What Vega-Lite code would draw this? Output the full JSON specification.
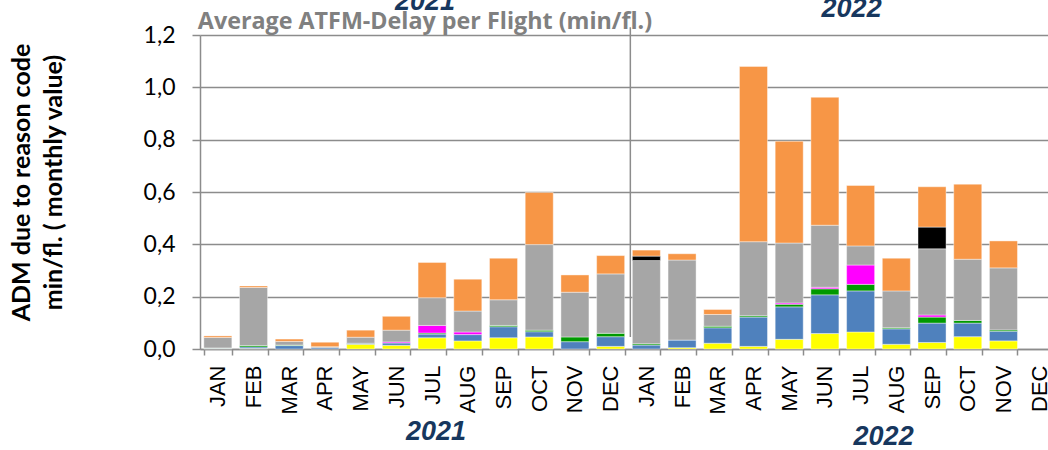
{
  "$schema": "https://vega.github.io/schema/vega-lite/v6.json",
  "autosize": {"type": "none"},
  "padding": {"left": 200, "top": 35, "right": 0, "bottom": 101},
  "width": 848,
  "height": 314,
  "background": "white",
  "config": {"view": {"stroke": null}},
  "datasets": {
    "adm": [
      {"m": "JAN 2021", "c": "R1", "v": 0.002}, {"m": "JAN 2021", "c": "R2", "v": 0.002}, {"m": "JAN 2021", "c": "R5", "v": 0.040}, {"m": "JAN 2021", "c": "R7", "v": 0.006},
      {"m": "FEB 2021", "c": "R1", "v": 0.002}, {"m": "FEB 2021", "c": "R2", "v": 0.006}, {"m": "FEB 2021", "c": "R3", "v": 0.005}, {"m": "FEB 2021", "c": "R5", "v": 0.222}, {"m": "FEB 2021", "c": "R7", "v": 0.006},
      {"m": "MAR 2021", "c": "R2", "v": 0.013}, {"m": "MAR 2021", "c": "R3", "v": 0.002}, {"m": "MAR 2021", "c": "R5", "v": 0.014}, {"m": "MAR 2021", "c": "R7", "v": 0.009},
      {"m": "APR 2021", "c": "R2", "v": 0.005}, {"m": "APR 2021", "c": "R5", "v": 0.004}, {"m": "APR 2021", "c": "R7", "v": 0.017},
      {"m": "MAY 2021", "c": "R1", "v": 0.018}, {"m": "MAY 2021", "c": "R2", "v": 0.004}, {"m": "MAY 2021", "c": "R5", "v": 0.023}, {"m": "MAY 2021", "c": "R7", "v": 0.027},
      {"m": "JUN 2021", "c": "R1", "v": 0.014}, {"m": "JUN 2021", "c": "R2", "v": 0.009}, {"m": "JUN 2021", "c": "R4", "v": 0.004}, {"m": "JUN 2021", "c": "R5", "v": 0.045}, {"m": "JUN 2021", "c": "R7", "v": 0.053},
      {"m": "JUL 2021", "c": "R1", "v": 0.043}, {"m": "JUL 2021", "c": "R2", "v": 0.014}, {"m": "JUL 2021", "c": "R3", "v": 0.004}, {"m": "JUL 2021", "c": "R4", "v": 0.029}, {"m": "JUL 2021", "c": "R5", "v": 0.106}, {"m": "JUL 2021", "c": "R7", "v": 0.135},
      {"m": "AUG 2021", "c": "R1", "v": 0.031}, {"m": "AUG 2021", "c": "R2", "v": 0.024}, {"m": "AUG 2021", "c": "R4", "v": 0.010}, {"m": "AUG 2021", "c": "R5", "v": 0.080}, {"m": "AUG 2021", "c": "R7", "v": 0.122},
      {"m": "SEP 2021", "c": "R1", "v": 0.043}, {"m": "SEP 2021", "c": "R2", "v": 0.042}, {"m": "SEP 2021", "c": "R3", "v": 0.005}, {"m": "SEP 2021", "c": "R5", "v": 0.098}, {"m": "SEP 2021", "c": "R7", "v": 0.159},
      {"m": "OCT 2021", "c": "R1", "v": 0.046}, {"m": "OCT 2021", "c": "R2", "v": 0.020}, {"m": "OCT 2021", "c": "R3", "v": 0.006}, {"m": "OCT 2021", "c": "R5", "v": 0.327}, {"m": "OCT 2021", "c": "R7", "v": 0.199},
      {"m": "NOV 2021", "c": "R2", "v": 0.028}, {"m": "NOV 2021", "c": "R3", "v": 0.018}, {"m": "NOV 2021", "c": "R5", "v": 0.171}, {"m": "NOV 2021", "c": "R7", "v": 0.066},
      {"m": "DEC 2021", "c": "R1", "v": 0.010}, {"m": "DEC 2021", "c": "R2", "v": 0.037}, {"m": "DEC 2021", "c": "R3", "v": 0.013}, {"m": "DEC 2021", "c": "R5", "v": 0.227}, {"m": "DEC 2021", "c": "R7", "v": 0.070},
      {"m": "JAN 2022", "c": "R2", "v": 0.015}, {"m": "JAN 2022", "c": "R3", "v": 0.005}, {"m": "JAN 2022", "c": "R5", "v": 0.318}, {"m": "JAN 2022", "c": "R6", "v": 0.017}, {"m": "JAN 2022", "c": "R7", "v": 0.023},
      {"m": "FEB 2022", "c": "R1", "v": 0.005}, {"m": "FEB 2022", "c": "R2", "v": 0.029}, {"m": "FEB 2022", "c": "R5", "v": 0.306}, {"m": "FEB 2022", "c": "R7", "v": 0.024},
      {"m": "MAR 2022", "c": "R1", "v": 0.022}, {"m": "MAR 2022", "c": "R2", "v": 0.059}, {"m": "MAR 2022", "c": "R3", "v": 0.006}, {"m": "MAR 2022", "c": "R5", "v": 0.045}, {"m": "MAR 2022", "c": "R7", "v": 0.019},
      {"m": "APR 2022", "c": "R1", "v": 0.010}, {"m": "APR 2022", "c": "R2", "v": 0.112}, {"m": "APR 2022", "c": "R3", "v": 0.005}, {"m": "APR 2022", "c": "R5", "v": 0.283}, {"m": "APR 2022", "c": "R7", "v": 0.670},
      {"m": "MAY 2022", "c": "R1", "v": 0.037}, {"m": "MAY 2022", "c": "R2", "v": 0.124}, {"m": "MAY 2022", "c": "R3", "v": 0.010}, {"m": "MAY 2022", "c": "R4", "v": 0.005}, {"m": "MAY 2022", "c": "R5", "v": 0.229}, {"m": "MAY 2022", "c": "R7", "v": 0.389},
      {"m": "JUN 2022", "c": "R1", "v": 0.059}, {"m": "JUN 2022", "c": "R2", "v": 0.148}, {"m": "JUN 2022", "c": "R3", "v": 0.023}, {"m": "JUN 2022", "c": "R4", "v": 0.006}, {"m": "JUN 2022", "c": "R5", "v": 0.237}, {"m": "JUN 2022", "c": "R7", "v": 0.489},
      {"m": "JUL 2022", "c": "R1", "v": 0.065}, {"m": "JUL 2022", "c": "R2", "v": 0.157}, {"m": "JUL 2022", "c": "R3", "v": 0.025}, {"m": "JUL 2022", "c": "R4", "v": 0.074}, {"m": "JUL 2022", "c": "R5", "v": 0.073}, {"m": "JUL 2022", "c": "R7", "v": 0.231},
      {"m": "AUG 2022", "c": "R1", "v": 0.018}, {"m": "AUG 2022", "c": "R2", "v": 0.059}, {"m": "AUG 2022", "c": "R3", "v": 0.004}, {"m": "AUG 2022", "c": "R5", "v": 0.141}, {"m": "AUG 2022", "c": "R7", "v": 0.125},
      {"m": "SEP 2022", "c": "R1", "v": 0.025}, {"m": "SEP 2022", "c": "R2", "v": 0.074}, {"m": "SEP 2022", "c": "R3", "v": 0.023}, {"m": "SEP 2022", "c": "R4", "v": 0.008}, {"m": "SEP 2022", "c": "R5", "v": 0.253}, {"m": "SEP 2022", "c": "R6", "v": 0.083}, {"m": "SEP 2022", "c": "R7", "v": 0.154},
      {"m": "OCT 2022", "c": "R1", "v": 0.047}, {"m": "OCT 2022", "c": "R2", "v": 0.052}, {"m": "OCT 2022", "c": "R3", "v": 0.010}, {"m": "OCT 2022", "c": "R5", "v": 0.234}, {"m": "OCT 2022", "c": "R7", "v": 0.287},
      {"m": "NOV 2022", "c": "R1", "v": 0.031}, {"m": "NOV 2022", "c": "R2", "v": 0.037}, {"m": "NOV 2022", "c": "R3", "v": 0.005}, {"m": "NOV 2022", "c": "R5", "v": 0.237}, {"m": "NOV 2022", "c": "R7", "v": 0.103}
    ]
  },
  "encoding": {
    "x": {
      "field": "m",
      "type": "nominal",
      "sort": null,
      "scale": {
        "domain": ["JAN 2021", "FEB 2021", "MAR 2021", "APR 2021", "MAY 2021", "JUN 2021", "JUL 2021", "AUG 2021", "SEP 2021", "OCT 2021", "NOV 2021", "DEC 2021", "JAN 2022", "FEB 2022", "MAR 2022", "APR 2022", "MAY 2022", "JUN 2022", "JUL 2022", "AUG 2022", "SEP 2022", "OCT 2022", "NOV 2022", "DEC 2022"],
        "range": [0, 857],
        "paddingInner": 0.215,
        "paddingOuter": 0.107
      },
      "axis": {
        "title": null,
        "labelExpr": "split(datum.label, ' ')[0]",
        "labelAngle": -90,
        "labelAlign": "right",
        "labelBaseline": "middle",
        "labelFont": "Liberation Sans",
        "labelFontSize": 22,
        "labelColor": "#000000",
        "labelPadding": 10,
        "ticks": true,
        "tickBand": "extent",
        "tickSize": 6,
        "tickColor": "#8c8c8c",
        "tickWidth": 1.5,
        "domainColor": "#8c8c8c",
        "domainWidth": 1.5,
        "grid": false
      }
    }
  },
  "layer": [
    {
      "data": {"name": "adm"},
      "mark": {"type": "bar", "stroke": "#ffffff", "strokeWidth": 0.6, "strokeOpacity": 0.7},
      "encoding": {
        "y": {
          "field": "v",
          "type": "quantitative",
          "aggregate": "sum",
          "stack": "zero",
          "scale": {"domain": [0, 1.2], "nice": false, "zero": true},
          "axis": {
            "values": [0, 0.2, 0.4, 0.6, 0.8, 1.0, 1.2],
            "labelExpr": "replace(format(datum.value, '.1f'), '.', ',')",
            "title": ["ADM due to reason code", "min/fl.  ( monthly value)"],
            "titleFont": "Lato",
            "titleFontSize": 25,
            "titleFontWeight": "bold",
            "titleColor": "#000000",
            "titleLineHeight": 32,
            "titlePadding": 77,
            "titleY": 147,
            "labelFont": "Lato",
            "labelFontSize": 23,
            "labelColor": "#000000",
            "labelPadding": 17,
            "tickSize": 8,
            "tickColor": "#8c8c8c",
            "tickWidth": 1.5,
            "domainColor": "#8c8c8c",
            "domainWidth": 1.5,
            "grid": true,
            "gridColor": "#8c8c8c",
            "gridWidth": 1.5
          }
        },
        "color": {
          "field": "c",
          "type": "nominal",
          "scale": {
            "domain": ["R1", "R2", "R3", "R4", "R5", "R6", "R7"],
            "range": ["#FFFF00", "#4F81BD", "#009900", "#FF00FF", "#A6A6A6", "#000000", "#F79646"]
          },
          "legend": null
        },
        "order": {"field": "c", "sort": "ascending"}
      }
    },
    {
      "data": {"values": [{"m": "JAN 2022"}]},
      "mark": {"type": "rule", "color": "#8c8c8c", "strokeWidth": 1.5, "xOffset": -2},
      "encoding": {
        "x": {"field": "m", "type": "nominal", "bandPosition": 0},
        "y": {"datum": 0.046, "type": "quantitative"},
        "y2": {"datum": 1.23}
      }
    },
    {
      "data": {"values": [{"m": "JAN 2021", "label": "Average ATFM-Delay per Flight (min/fl.)"}]},
      "mark": {"type": "text", "font": "Open Sans", "fontSize": 23.3, "fontWeight": "bold", "color": "#808080", "baseline": "alphabetic", "align": "left", "dx": -6},
      "encoding": {"x": {"field": "m", "type": "nominal", "bandPosition": 0}, "text": {"field": "label"}, "y": {"datum": 1.223, "type": "quantitative"}}
    },
    {
      "data": {"values": [{"m": "JUL 2021", "label": "2021"}]},
      "mark": {"type": "text", "font": "Liberation Sans", "fontSize": 27, "fontWeight": "bold", "fontStyle": "italic", "color": "#17375E", "baseline": "alphabetic", "align": "center", "dx": -7},
      "encoding": {"text": {"field": "label"}, "y": {"datum": 1.295, "type": "quantitative"}}
    },
    {
      "data": {"values": [{"m": "JUL 2022", "label": "2022"}]},
      "mark": {"type": "text", "font": "Liberation Sans", "fontSize": 27, "fontWeight": "bold", "fontStyle": "italic", "color": "#17375E", "baseline": "alphabetic", "align": "center", "dx": -9},
      "encoding": {"text": {"field": "label"}, "y": {"datum": 1.269, "type": "quantitative"}}
    },
    {
      "data": {"values": [{"m": "JUL 2021", "label": "2021"}]},
      "mark": {"type": "text", "font": "Liberation Sans", "fontSize": 27, "fontWeight": "bold", "fontStyle": "italic", "color": "#17375E", "baseline": "alphabetic", "align": "center", "dx": 4},
      "encoding": {"text": {"field": "label"}, "y": {"datum": -0.348, "type": "quantitative"}}
    },
    {
      "data": {"values": [{"m": "JUL 2022", "label": "2022"}]},
      "mark": {"type": "text", "font": "Liberation Sans", "fontSize": 27, "fontWeight": "bold", "fontStyle": "italic", "color": "#17375E", "baseline": "alphabetic", "align": "center", "dx": 23},
      "encoding": {"text": {"field": "label"}, "y": {"datum": -0.367, "type": "quantitative"}}
    }
  ]
}
